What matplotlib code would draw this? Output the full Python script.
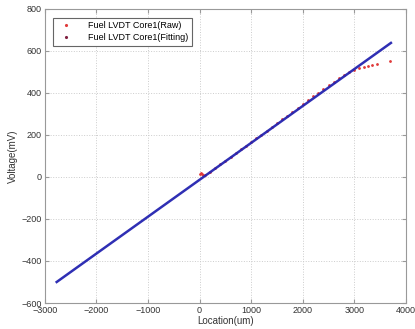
import matplotlib
matplotlib.use("Agg")
import matplotlib.pyplot as plt
from matplotlib.lines import Line2D

# raw LVDT readings (location um, voltage mV)
raw_x = [0, 20, 40, 60, 100, 200, 300, 400, 500, 600, 700, 800, 900, 1000,
         1100, 1200, 1300, 1400, 1500, 1600, 1700, 1800, 1900, 2000, 2100,
         2200, 2300, 2400, 2500, 2600, 2700, 2800, 2900, 3000, 3100, 3190,
         3270, 3350, 3440, 3700]
raw_y = [15, 18, 12, 8, 8, 25, 43, 60, 78, 96, 113, 131, 149, 167,
         185, 202, 220, 238, 256, 274, 292, 310, 328, 347, 365,
         383, 401, 419, 436, 453, 470, 486, 500, 510, 518, 525,
         530, 535, 540, 552]

# linear fit endpoints
fit_x = [-2770, 3710]
fit_y = [-500, 638]

plt.rcParams['font.family'] = ['Liberation Sans', 'DejaVu Sans']

fig = plt.figure(figsize=(4.15, 3.29), dpi=100)
ax = fig.add_axes([0.108, 0.079, 0.870, 0.894])

ax.plot(raw_x, raw_y, ls='none', marker='.', ms=2.0, color='#e03a3a', zorder=2)
ax.plot(fit_x, fit_y, color='#2424b0', lw=1.8, alpha=0.95, zorder=3)

ax.set_xlim(-3000, 4000)
ax.set_ylim(-600, 800)
ax.set_xticks(range(-3000, 4001, 1000))
ax.set_yticks(range(-600, 801, 200))
ax.grid(True, ls=':', color='#cccccc', lw=0.7)
ax.tick_params(direction='in', labelsize=6.5, length=3, color='#999999',
               right=True, top=True, labelcolor='#333333', pad=2)
for s in ax.spines.values():
    s.set_color('#999999')
    s.set_linewidth(0.8)

ax.set_xlabel('Location(um)', fontsize=7, color='#333333', labelpad=1)
ax.set_ylabel('Voltage(mV)', fontsize=7, color='#333333', labelpad=3)

handles = [Line2D([], [], ls='none', marker='.', ms=2.5, color='#e03a3a'),
           Line2D([], [], ls='none', marker='.', ms=2.5, color='#802040')]
leg = ax.legend(handles, ['Fuel LVDT Core1(Raw)', 'Fuel LVDT Core1(Fitting)'],
                loc='upper left', fontsize=6.5, fancybox=False, framealpha=1,
                borderpad=0.4, handletextpad=1.5, labelspacing=0.3,
                bbox_to_anchor=(0.01, 0.985))
leg.get_frame().set_edgecolor('#666666')
leg.get_frame().set_linewidth(0.8)

fig.savefig('out.png', dpi=100)
